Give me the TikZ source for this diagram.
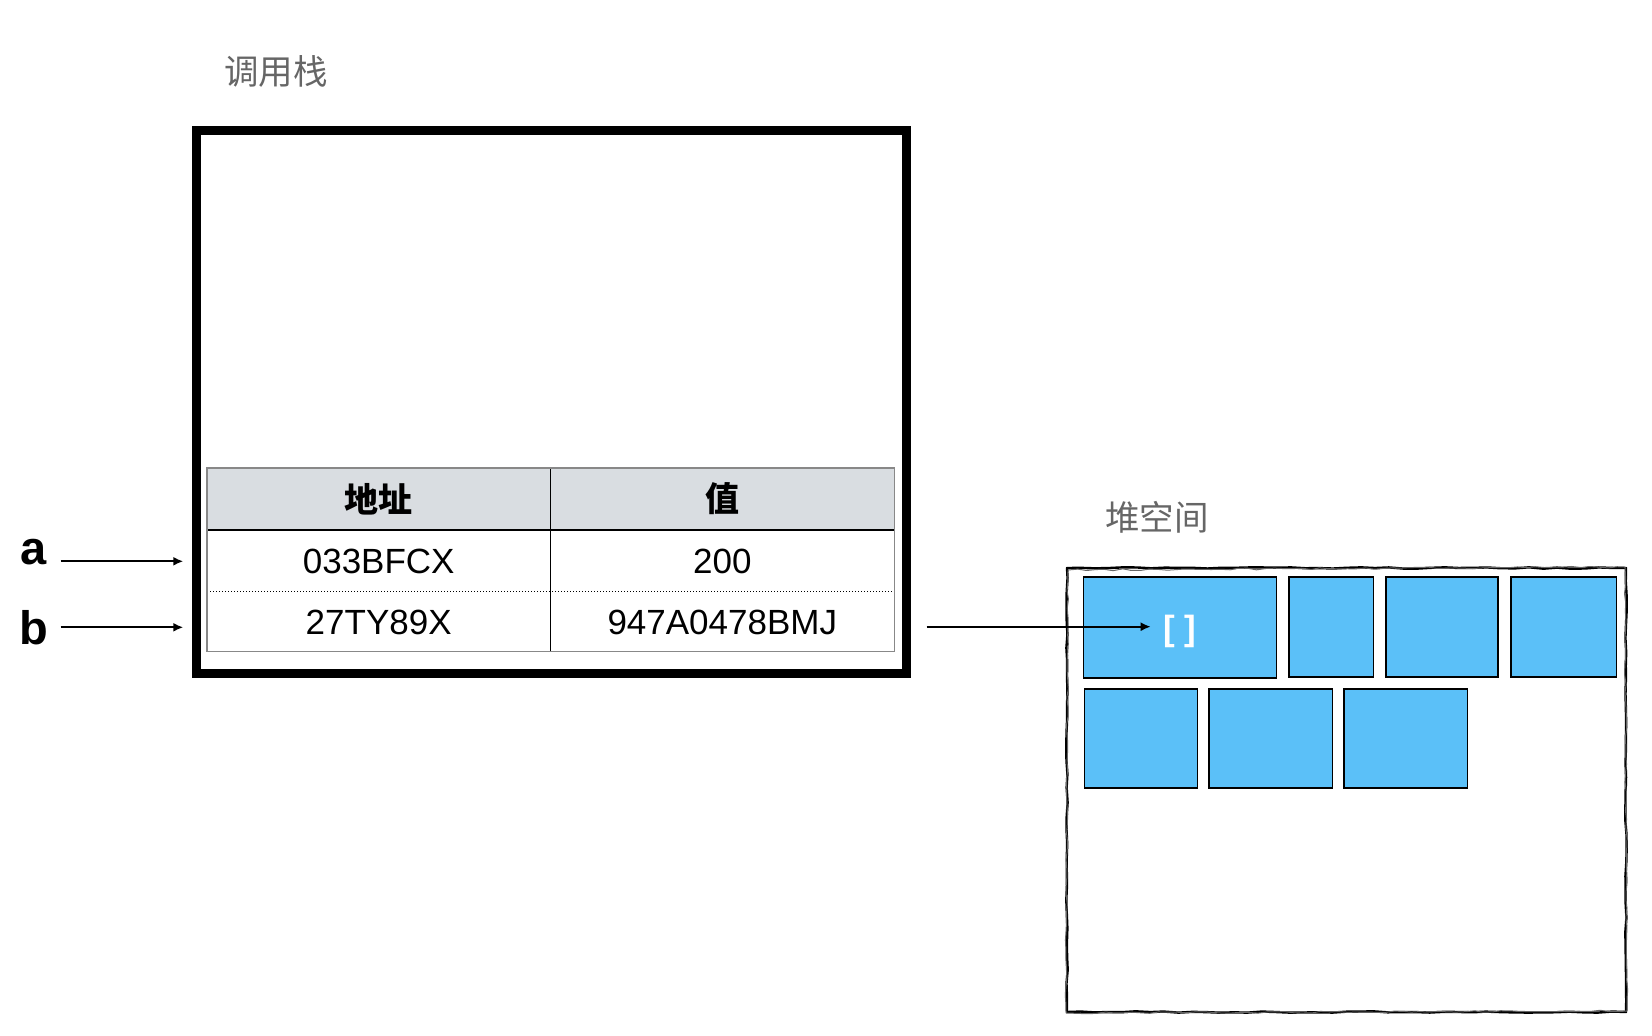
\documentclass[tikz,border=0pt]{standalone}
\usepackage{fontspec}
\setmainfont{Liberation Sans}
\newfontfamily\cjk{Noto Sans CJK SC}
\usetikzlibrary{arrows.meta,decorations.pathmorphing}
\definecolor{heapblue}{HTML}{5BC0F8}
\definecolor{hdrgray}{HTML}{D9DDE1}
\definecolor{titlegray}{HTML}{666666}
\definecolor{tblgray}{HTML}{888888}
\begin{document}
\begin{tikzpicture}[x=1pt,y=-1pt,
  titletext/.style={font=\cjk\fontsize{34.5}{34.5}\selectfont, text=titlegray, inner sep=0pt},
  hdrtext/.style={font=\cjk\bfseries\fontsize{34}{34}\selectfont, inner sep=0pt},
  celltext/.style={font=\fontsize{35}{35}\selectfont, inner sep=0pt},
  varlbl/.style={font=\bfseries\fontsize{47}{47}\selectfont, inner sep=0pt},
  ptr/.style={line width=1.9pt, -{Latex[length=10pt,width=9pt]}},
  block/.style={draw=black, line width=1.3pt, fill=heapblue},
]
\useasboundingbox (0,0) rectangle (1652,1036);

% titles
\node[titletext] (stacktitle) at (276,71) {调用栈};
\node[titletext] (heaptitle) at (1157,517.5) {堆空间};

% stack frame
\node[draw=black, line width=9.4pt, minimum width=709.7pt, minimum height=543.1pt,
      inner sep=0pt] (stack) at (551.55,401.95) {};

% table
\fill[hdrgray] (207,468) rectangle (894.3,530);
\draw[black, line width=1.2pt] (207,530) -- (894.3,530);
\draw[black, line width=1pt, dotted] (207,591) -- (894.3,591);
\draw[black, line width=1.2pt] (550.4,468) -- (550.4,651.7);
\draw[tblgray, line width=1.3pt] (207,468) rectangle (894.3,651.7);

\node[hdrtext] (haddr) at (378.7,499) {地址};
\node[hdrtext] (hval) at (722.3,499) {值};
\node[celltext] (addr1) at (378.7,561) {033BFCX};
\node[celltext] (val1) at (722.3,561) {200};
\node[celltext] (addr2) at (378.7,622) {27TY89X};
\node[celltext] (val2) at (722.3,622) {947A0478BMJ};

% variable labels
\node[varlbl] (la) at (34,552) {a};
\node[varlbl] (lb) at (34,628) {b};
\coordinate (a0) at (60.7,561.3);
\coordinate (a1) at (183.3,561.3);
\coordinate (b0) at (60.7,627.3);
\coordinate (b1) at (183.3,627.3);
\draw[ptr] (a0) -- (a1);
\draw[ptr] (b0) -- (b1);

% heap frame (sketchy)
\pgfmathsetseed{7}
\draw[black, line width=2.4pt, line join=round,
      decorate, decoration={random steps, segment length=14pt, amplitude=0.7pt}]
  (1067,568) -- (1626,568) -- (1626,1012) -- (1067,1012) -- cycle;
\draw[black!60, line width=1pt, line join=round,
      decorate, decoration={random steps, segment length=9pt, amplitude=0.9pt}]
  (1068,570) -- (1625,567) -- (1627,1011) -- (1066,1013) -- cycle;

% heap blocks
\draw[block] (1083.3,577) rectangle (1276.6,678);
\draw[block] (1289,577) rectangle (1373.6,677);
\draw[block] (1386,577) rectangle (1498,677);
\draw[block] (1511,577) rectangle (1616.6,677);
\draw[block] (1084.5,689) rectangle (1197.4,788);
\draw[block] (1209,689) rectangle (1332.5,788);
\draw[block] (1344,689) rectangle (1467.7,788);

\node[font=\bfseries\fontsize{35}{35}\selectfont, text=white, inner sep=0pt] (arr) at (1179.7,631) {[ ]};

% pointer from table to heap
\coordinate (p0) at (926.7,626.7);
\coordinate (p1) at (1150.7,626.7);
\draw[ptr] (p0) -- (p1);
\end{tikzpicture}
\end{document}
